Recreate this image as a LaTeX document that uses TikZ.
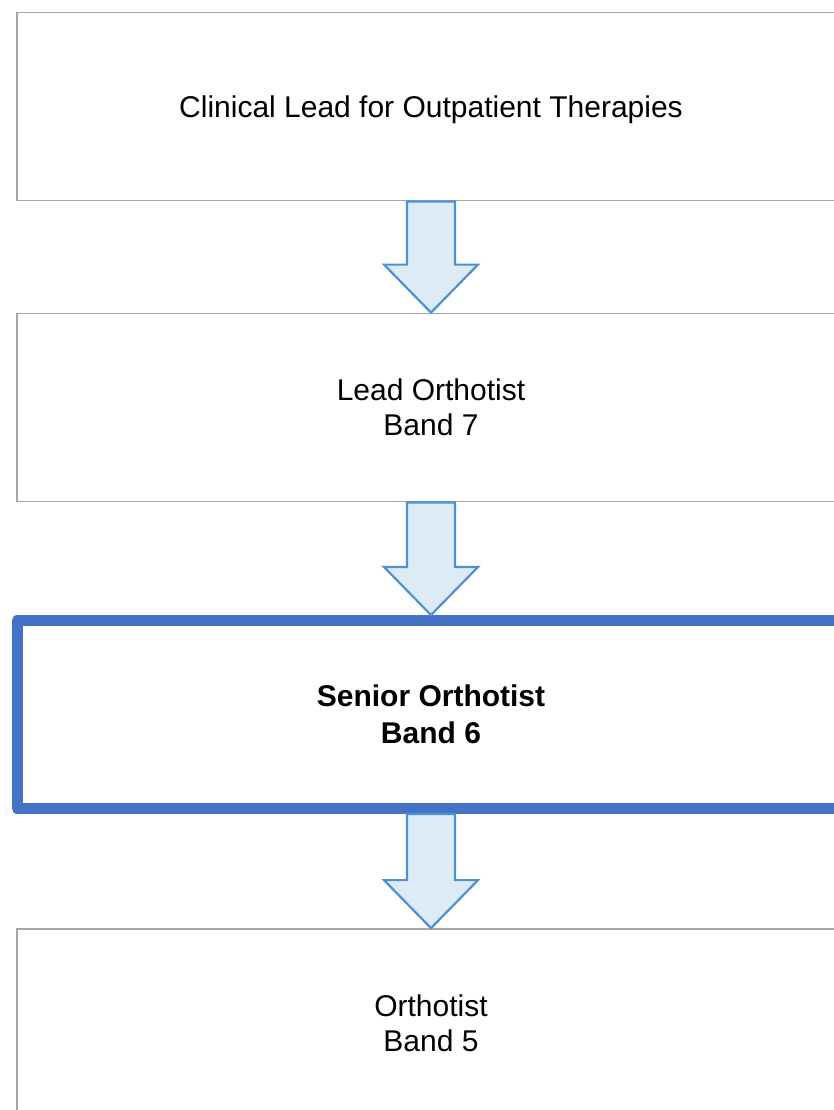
\documentclass[tikz,border=0pt]{standalone}
\usepackage{fontspec}
\setmainfont{Liberation Sans}
\usetikzlibrary{calc}
\definecolor{boxgray}{HTML}{A6A6A6}
\definecolor{leadblue}{HTML}{4472C4}
\definecolor{arrowfill}{HTML}{DDEBF7}
\definecolor{arrowline}{HTML}{4F8FD6}
\newcommand{\bandarrow}[2]{%
  \draw[bandflow] let \p1=(#1.south), \p2=(#2.north) in
    (\x1-24pt,\y1) -- (\x1+24pt,\y1) -- (\x1+24pt,\y2+48pt) -- (\x1+47pt,\y2+48pt)
    -- (\x2,\y2) -- (\x1-47pt,\y2+48pt) -- (\x1-24pt,\y2+48pt) -- cycle;}
\begin{document}
\begin{tikzpicture}[x=1pt,y=1pt,
  post/.style={draw=boxgray,line width=1.8pt,fill=white,minimum width=828pt,minimum height=188pt,inner sep=0pt,text depth=-6pt,align=center,font=\fontsize{30}{35}\selectfont},
  ownpost/.style={post,draw=leadblue,line width=11pt,line join=round,font=\fontsize{30}{37}\selectfont\bfseries},
  bandflow/.style={draw=arrowline,line width=2.2pt,fill=arrowfill,line join=miter}]
\useasboundingbox (0,0) rectangle (834,-1110);
\clip (0,0) rectangle (834,-1110);
\node[post] (clinlead) at (431,-106.5) {Clinical Lead for Outpatient Therapies};
\node[post] (lead) at (431,-407.5) {Lead Orthotist\\Band 7};
\node[ownpost] (senior) at (431,-714.5) {Senior Orthotist\\Band 6};
\node[post] (orthotist) at (431,-1023) {Orthotist\\Band 5};
\bandarrow{clinlead}{lead}
\bandarrow{lead}{senior}
\bandarrow{senior}{orthotist}
\end{tikzpicture}
\end{document}
